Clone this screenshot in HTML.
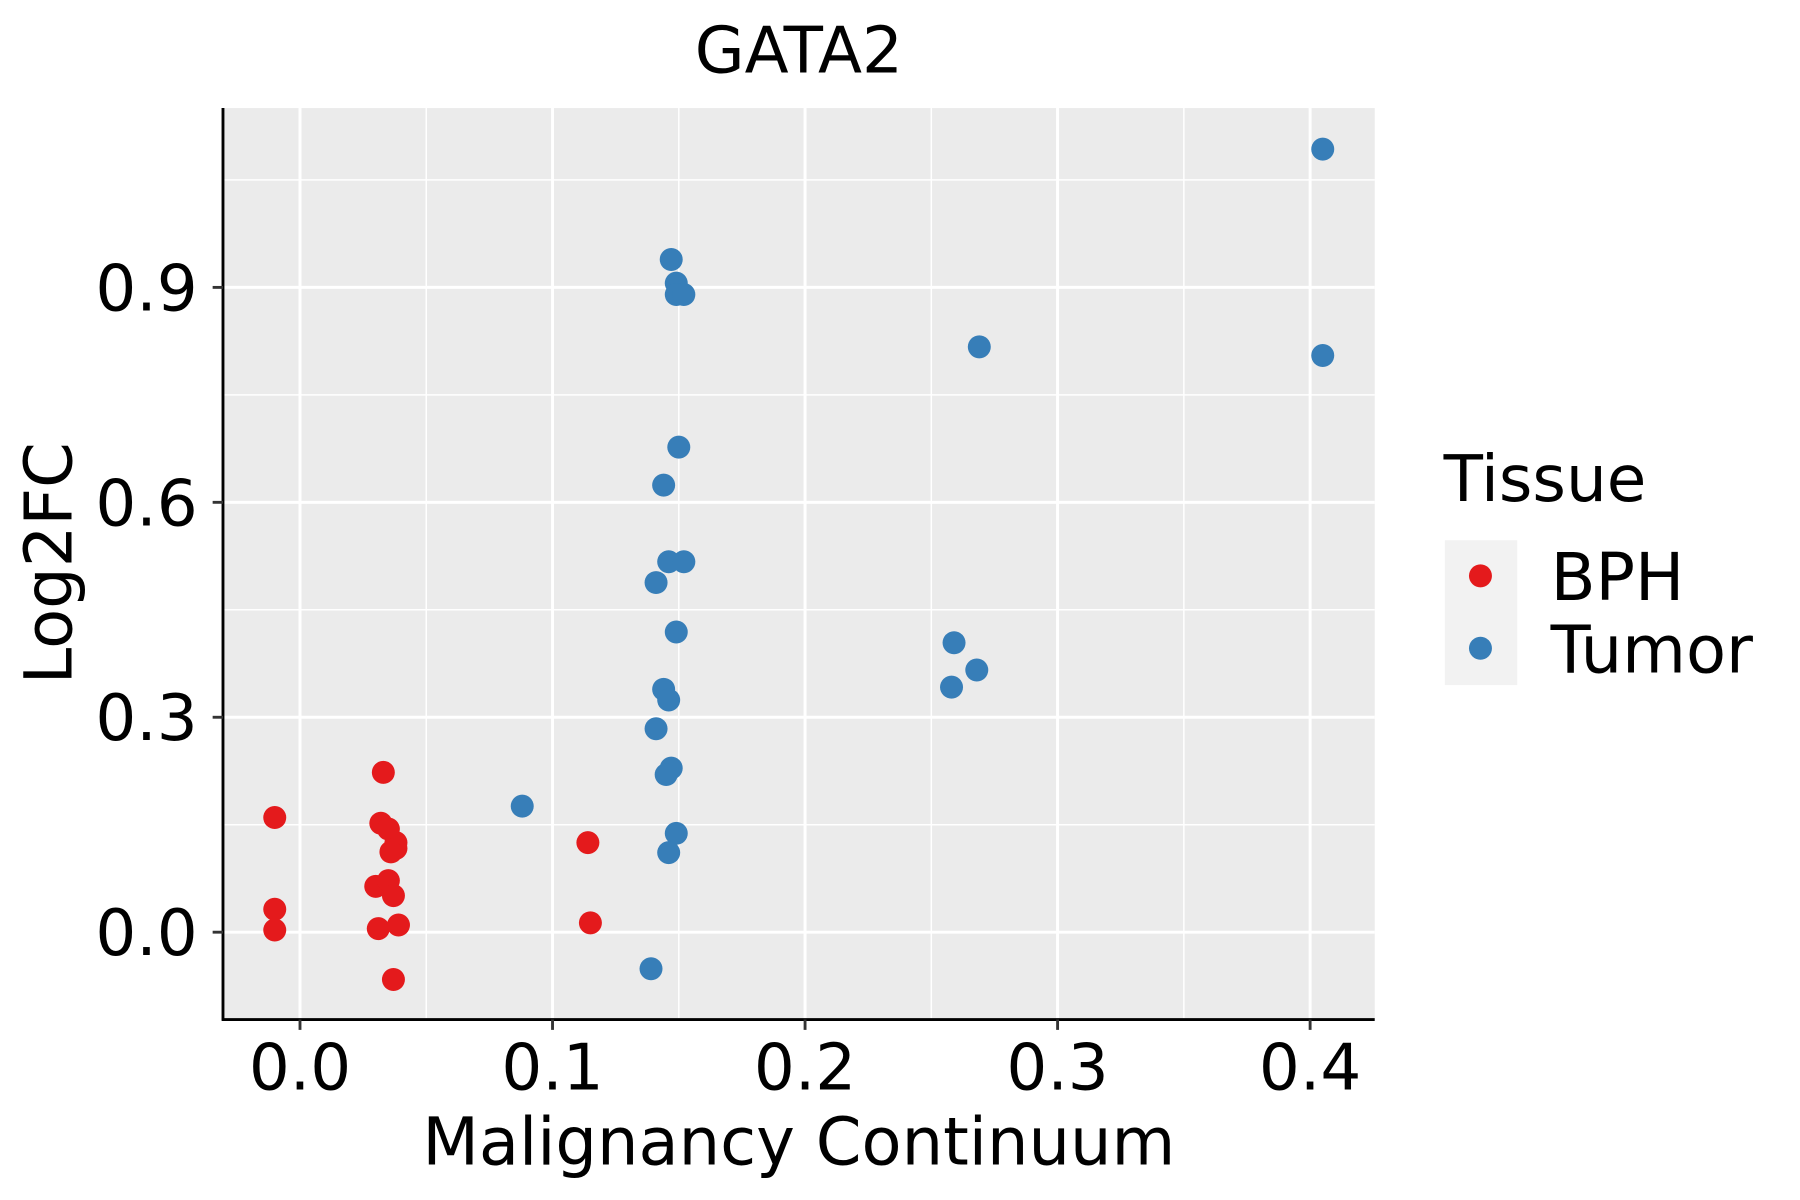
<!DOCTYPE html>
<html><head><meta charset="utf-8"><style>
html,body{margin:0;padding:0;background:#fff;}
svg{display:block;font-family:"DejaVu Sans","Liberation Sans",sans-serif;}
</style></head><body>
<svg id="chart" width="1800" height="1200" viewBox="0 0 1566 1044" preserveAspectRatio="none" xmlns="http://www.w3.org/2000/svg">
<text x="695" y="63" font-size="56" text-anchor="middle">GATA2</text>
<rect x="194" y="94" width="1002" height="793" fill="#EBEBEB"/>
<g id="grid"></g>
<g id="points"></g>
<line x1="194" y1="94" x2="194" y2="888" stroke="#000" stroke-width="2.5"/>
<line x1="193" y1="887" x2="1196" y2="887" stroke="#000" stroke-width="2.5"/>
<g id="ticks"></g>
<text x="695" y="1013" font-size="57" text-anchor="middle">Malignancy Continuum</text>
<text transform="translate(62,490) rotate(-90)" font-size="57" text-anchor="middle">Log2FC</text>
<text x="1256" y="436" font-size="56">Tissue</text>
<rect x="1257" y="470" width="63" height="126" fill="#F2F2F2"/>
<circle cx="1288" cy="501" r="10" fill="#E41A1C"/>
<circle cx="1288" cy="564" r="10" fill="#377EB8"/>
<text x="1349" y="522" font-size="57">BPH</text>
<text x="1349" y="585" font-size="57">Tumor</text>
</svg>
<script>
const xTicks = [0.0, 0.1, 0.2, 0.3, 0.4];
const xTickLabels = ["0.0", "0.1", "0.2", "0.3", "0.4"];
const yTicks = [0.0, 0.3, 0.6, 0.9];
const yTickLabels = ["0.0", "0.3", "0.6", "0.9"];
const xMinor = [0.05, 0.15, 0.25, 0.35];
const yMinor = [-0.15, 0.15, 0.45, 0.75, 1.05];
const bphX = [-0.010, -0.010, -0.010, 0.033, 0.032, 0.035, 0.038, 0.038, 0.036, 0.030, 0.035, 0.037, 0.031, 0.039, 0.037, 0.114, 0.115];
const bphY = [0.160, 0.032, 0.003, 0.223, 0.152, 0.144, 0.125, 0.117, 0.112, 0.064, 0.072, 0.051, 0.005, 0.010, -0.066, 0.125, 0.013];
const tumorX = [0.405, 0.147, 0.149, 0.149, 0.152, 0.269, 0.405, 0.150, 0.144, 0.146, 0.152, 0.141, 0.149, 0.259, 0.268, 0.258, 0.144, 0.146, 0.141, 0.147, 0.145, 0.088, 0.149, 0.146, 0.139];
const tumorY = [1.093, 0.939, 0.906, 0.890, 0.890, 0.817, 0.805, 0.677, 0.624, 0.517, 0.517, 0.488, 0.419, 0.404, 0.366, 0.342, 0.339, 0.324, 0.284, 0.229, 0.220, 0.176, 0.138, 0.111, -0.051];

const NS = "http://www.w3.org/2000/svg";
const xs = v => 261 + v * 2197;
const ys = v => 811 - v * 623.3;
const grid = document.getElementById('grid');
const ticks = document.getElementById('ticks');
const pts = document.getElementById('points');
function mk(tag, attrs, parent) {
  const e = document.createElementNS(NS, tag);
  for (const k in attrs) e.setAttribute(k, attrs[k]);
  parent.appendChild(e);
  return e;
}
xMinor.forEach(v => {
  const l = mk('line', {x1: xs(v), x2: xs(v), y1: 94, y2: 887, stroke: '#fff', 'stroke-width': 1.3}, grid);
  
  
});
yMinor.forEach(v => {
  const l = mk('line', {x1: 194, x2: 1196, y1: ys(v), y2: ys(v), stroke: '#fff', 'stroke-width': 1.3}, grid);
  
  
});
xTicks.forEach((v, i) => {
  const l = mk('line', {x1: xs(v), x2: xs(v), y1: 94, y2: 887, stroke: '#fff', 'stroke-width': 2.6}, grid);
  
  
  const t = mk('line', {x1: xs(v), x2: xs(v), y1: 887, y2: 896, stroke: '#333', 'stroke-width': 2.5}, ticks);
  
  
  const tx = mk('text', {x: xs(v), y: 948, 'font-size': 56, 'text-anchor': 'middle', fill: '#000'}, ticks);
  tx.textContent = xTickLabels[i];
  
  
});
yTicks.forEach((v, i) => {
  const l = mk('line', {x1: 194, x2: 1196, y1: ys(v), y2: ys(v), stroke: '#fff', 'stroke-width': 2.6}, grid);
  
  
  const t = mk('line', {x1: 185, x2: 194, y1: ys(v), y2: ys(v), stroke: '#333', 'stroke-width': 2.5}, ticks);
  
  
  const tx = mk('text', {x: 172, y: ys(v) + 20, 'font-size': 56, 'text-anchor': 'end', fill: '#000'}, ticks);
  tx.textContent = yTickLabels[i];
  
  
});
bphX.forEach((v, i) => {
  const c = mk('circle', {cx: xs(v), cy: ys(bphY[i]), r: 10, fill: '#E41A1C'}, pts);
  
  
});
tumorX.forEach((v, i) => {
  const c = mk('circle', {cx: xs(v), cy: ys(tumorY[i]), r: 10, fill: '#377EB8'}, pts);
  
  
});
</script>
</body></html>
